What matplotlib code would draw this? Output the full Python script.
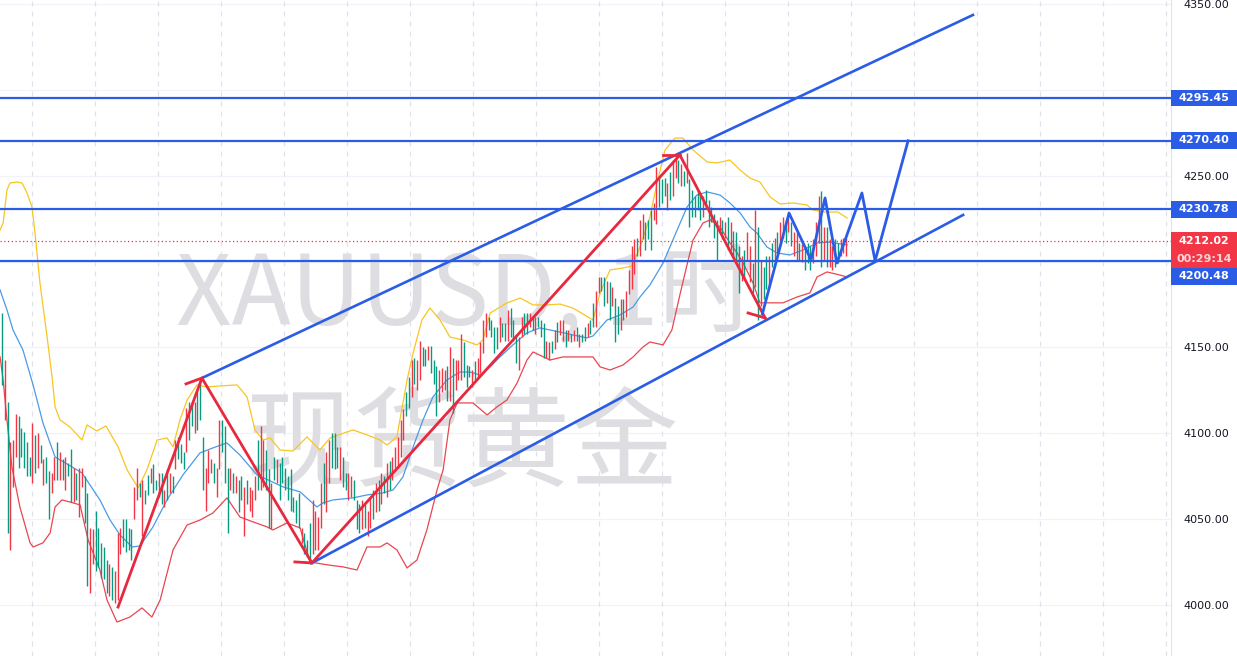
import matplotlib.pyplot as plt
import matplotlib.transforms as mtransforms
from matplotlib.patches import Rectangle
import numpy as np

# XAUUSD 1H candles (bar index = position)
highs = [
    4170, 4143, 4118, 4095, 4096, 4111, 4110, 4103, 4101, 4095,
    4086, 4106, 4099, 4100, 4093, 4085, 4086, 4078, 4077, 4086,
    4095, 4089, 4085, 4086, 4083, 4091, 4080, 4077, 4080, 4080,
    4075, 4065, 4045, 4044, 4055, 4045, 4036, 4034, 4026, 4024,
    4022, 4020, 4042, 4045, 4050, 4050, 4045, 4044, 4069, 4080,
    4071, 4073, 4067, 4076, 4080, 4082, 4073, 4077, 4077, 4067,
    4079, 4077, 4075, 4096, 4098, 4094, 4089, 4115, 4118, 4118,
    4118, 4124, 4131, 4098, 4080, 4090, 4085, 4083, 4080, 4108,
    4108, 4104, 4080, 4080, 4077, 4075, 4073, 4075, 4069, 4073,
    4069, 4067, 4075, 4096, 4104, 4096, 4090, 4079, 4071, 4086,
    4085, 4083, 4086, 4080, 4075, 4079, 4063, 4061, 4065, 4045,
    4042, 4038, 4048, 4061, 4055, 4051, 4071, 4083, 4089, 4096,
    4100, 4100, 4092, 4092, 4086, 4077, 4077, 4075, 4073, 4061,
    4059, 4061, 4059, 4055, 4063, 4067, 4071, 4073, 4077, 4075,
    4083, 4084, 4086, 4092, 4098, 4108, 4114, 4124, 4133, 4143,
    4144, 4143, 4154, 4150, 4149, 4151, 4151, 4143, 4139, 4137,
    4138, 4137, 4139, 4150, 4144, 4143, 4143, 4158, 4153, 4140,
    4139, 4137, 4142, 4144, 4153, 4166, 4170, 4168, 4166, 4162,
    4162, 4168, 4164, 4164, 4172, 4173, 4166, 4158, 4156, 4168,
    4170, 4170, 4170, 4168, 4168, 4168, 4166, 4164, 4154, 4153,
    4154, 4160, 4165, 4166, 4166, 4160, 4160, 4158, 4160, 4162,
    4158, 4158, 4162, 4164, 4166, 4176, 4183, 4191, 4191, 4191,
    4189, 4188, 4185, 4179, 4174, 4178, 4178, 4183, 4195, 4209,
    4213, 4214, 4224, 4228, 4223, 4224, 4230, 4234, 4255, 4249,
    4248, 4249, 4246, 4252, 4259, 4261, 4259, 4257, 4253, 4263,
    4248, 4242, 4238, 4242, 4240, 4238, 4242, 4236, 4232, 4228,
    4224, 4226, 4224, 4223, 4226, 4223, 4218, 4217, 4209, 4203,
    4207, 4217, 4209, 4199, 4230, 4220, 4201, 4197, 4203, 4203,
    4211, 4214, 4217, 4223, 4226, 4223, 4226, 4223, 4217, 4217,
    4211, 4210, 4209, 4211, 4209, 4213, 4223, 4238, 4241, 4220,
    4220, 4213, 4209, 4213, 4211, 4213, 4214, 4214,
]
lows = [
    4128, 4108, 4042, 4032, 4069, 4086, 4080, 4086, 4080, 4075,
    4075, 4071, 4077, 4080, 4083, 4070, 4071, 4050, 4065, 4073,
    4073, 4073, 4073, 4067, 4075, 4060, 4060, 4061, 4051, 4069,
    4048, 4011, 4007, 4024, 4020, 4022, 4016, 4015, 4007, 4005,
    4003, 4001, 4003, 4030, 4034, 4031, 4032, 4026, 4050, 4061,
    4063, 4040, 4059, 4064, 4071, 4065, 4067, 4063, 4059, 4057,
    4061, 4065, 4065, 4079, 4085, 4083, 4079, 4089, 4096, 4104,
    4100, 4102, 4108, 4067, 4055, 4071, 4077, 4071, 4063, 4079,
    4089, 4071, 4042, 4067, 4065, 4065, 4054, 4061, 4040, 4059,
    4055, 4051, 4061, 4067, 4067, 4069, 4067, 4045, 4044, 4073,
    4071, 4061, 4071, 4067, 4061, 4055, 4054, 4048, 4045, 4036,
    4030, 4028, 4024, 4030, 4032, 4032, 4045, 4059, 4054, 4071,
    4080, 4079, 4080, 4073, 4069, 4067, 4061, 4063, 4061, 4044,
    4042, 4044, 4045, 4040, 4045, 4050, 4054, 4055, 4059, 4065,
    4063, 4067, 4073, 4080, 4080, 4086, 4096, 4110, 4115, 4121,
    4129, 4125, 4131, 4139, 4139, 4143, 4135, 4129, 4110, 4118,
    4124, 4125, 4119, 4119, 4112, 4125, 4131, 4131, 4133, 4127,
    4133, 4127, 4131, 4133, 4135, 4147, 4156, 4160, 4156, 4147,
    4149, 4153, 4156, 4154, 4154, 4156, 4154, 4141, 4137, 4156,
    4158, 4158, 4162, 4160, 4158, 4162, 4156, 4144, 4144, 4143,
    4147, 4149, 4153, 4157, 4154, 4150, 4154, 4153, 4154, 4154,
    4150, 4153, 4154, 4156, 4158, 4162, 4162, 4182, 4183, 4174,
    4176, 4166, 4174, 4153, 4158, 4160, 4166, 4168, 4181, 4184,
    4193, 4203, 4203, 4213, 4207, 4213, 4207, 4224, 4222, 4232,
    4234, 4238, 4230, 4236, 4238, 4249, 4246, 4244, 4244, 4246,
    4220, 4226, 4226, 4230, 4224, 4226, 4232, 4220, 4223, 4214,
    4201, 4218, 4213, 4214, 4207, 4207, 4203, 4201, 4182, 4189,
    4191, 4201, 4188, 4182, 4185, 4166, 4174, 4178, 4184, 4185,
    4197, 4201, 4205, 4211, 4214, 4211, 4217, 4209, 4203, 4201,
    4201, 4200, 4195, 4199, 4195, 4199, 4203, 4211, 4197, 4201,
    4197, 4197, 4195, 4197, 4199, 4203, 4205, 4203,
]
# g = up candle, r = down candle
dirs = ("grgrrrgggg" "grgrgrggrr" "grgrggrgrr" "ggrrgggggr" "grrrggggrr"
        "grggrggrgr" "grgrgggrgg" "rgggrrrgrr" "gggrgrggrg" "rrrgrrggrg"
        "rggggggggr" "gggrrrrgrr" "gggrggrrgg" "grgrrgrgrg" "rgrrrrrggr"
        "grrggrgggr" "rrgrgrrrgg" "grgrrrrggg" "grggrgggrr" "ggrgrgggrr"
        "grgrrgrgrg" "rggrggrrgg" "rgrggrgrrr" "rgrrgggrrg" "ggrgrrgrgr"
        "gggggrgggg" "grgrgrgggr" "grrgrgrggr" "grgrrgrgrr" "grgggrrrgr"
        "grrggrrr")

# Bollinger bands (bar index, price)
bb_up_x = [-0.7, 0.4, 1.8, 2.9, 5.5, 7.3, 9.1, 10.9, 12.0, 13.8, 16.4, 18.2, 19.3, 21.1,
           24.7, 29.1, 30.9, 34.5, 37.8, 42.2, 45.5, 49.5, 52.7, 56.4, 60.0, 62.2, 64.7,
           67.3, 70.9, 74.5, 79.3, 85.5, 89.1, 92.0, 94.9, 97.5, 101.1, 105.8, 110.9,
           115.6, 119.3, 127.6, 132.7, 137.5, 140.0, 143.6, 147.3, 149.5, 152.7, 155.6,
           159.3, 162.9, 167.6, 172.7, 174.9, 177.5, 183.6, 188.4, 193.1, 198.2, 202.9,
           207.6, 214.9, 217.5, 221.1, 225.8, 229.1, 232.0, 235.6, 238.2, 241.1, 244.7,
           247.6, 251.3, 256.4, 260.0, 264.7, 268.4, 272.0, 275.6, 279.3, 282.9, 287.6,
           292.7, 294.9, 299.3, 304.0, 307.3]
bb_up = [4218.4, 4222.5, 4241.7, 4245.8, 4246.4, 4245.8, 4240.0, 4231.8, 4216.7, 4187.6,
         4156.1, 4132.8, 4115.4, 4107.8, 4103.7, 4096.1, 4104.9, 4101.4, 4104.3, 4092.1,
         4078.7, 4068.2, 4078.7, 4096.1, 4097.3, 4092.1, 4107.8, 4119.4, 4128.2, 4127.0,
         4127.6, 4128.2, 4121.2, 4102.0, 4096.1, 4097.3, 4090.3, 4089.7, 4097.9, 4090.3,
         4097.3, 4102.0, 4099.1, 4096.1, 4093.2, 4097.9, 4131.1, 4146.8, 4166.0, 4173.0,
         4166.0, 4156.1, 4154.4, 4151.5, 4154.4, 4170.1, 4175.9, 4178.8, 4174.8, 4174.8,
         4175.3, 4173.0, 4166.0, 4181.8, 4195.2, 4196.3, 4197.5, 4208.5, 4226.0, 4245.8,
         4265.0, 4272.0, 4272.0, 4265.0, 4258.1, 4257.5, 4259.2, 4253.4, 4248.7, 4246.4,
         4237.7, 4233.6, 4234.2, 4233.0, 4230.1, 4228.9, 4228.9, 4225.4]

bb_mid_x = [-0.7, 1.8, 4.0, 7.6, 11.3, 14.9, 19.3, 23.6, 29.1, 32.0, 35.6, 39.3, 42.9, 47.3,
            50.2, 54.9, 60.0, 65.8, 72.0, 76.7, 81.8, 86.5, 92.7, 97.5, 102.2, 108.4, 114.5,
            116.7, 120.4, 127.6, 132.7, 138.5, 142.2, 145.8, 149.5, 153.1, 156.7, 161.8,
            166.5, 170.2, 173.8, 177.5, 181.1, 185.8, 190.9, 195.6, 199.3, 202.9, 207.6,
            212.7, 214.9, 220.0, 224.7, 229.5, 232.0, 235.6, 240.4, 245.5, 249.1, 252.7,
            256.4, 261.1, 264.7, 268.4, 272.0, 274.5, 278.2, 281.8, 286.5, 291.3, 296.4,
            301.1, 307.3]
bb_mid = [4183.5, 4171.9, 4160.2, 4148.6, 4128.2, 4106.0, 4086.2, 4082.2, 4076.9, 4069.9,
          4061.2, 4049.5, 4040.8, 4033.8, 4034.4, 4045.5, 4061.2, 4075.8, 4088.6, 4091.5,
          4094.4, 4087.4, 4075.8, 4072.3, 4068.8, 4065.9, 4057.1, 4059.5, 4061.2, 4062.4,
          4064.1, 4065.3, 4067.0, 4074.6, 4092.1, 4107.8, 4121.2, 4131.1, 4135.7, 4135.7,
          4134.0, 4138.7, 4144.5, 4151.5, 4158.5, 4161.4, 4160.2, 4159.0, 4157.3, 4155.6,
          4156.7, 4166.0, 4168.9, 4173.6, 4179.4, 4186.4, 4199.2, 4218.4, 4231.8, 4238.8,
          4240.6, 4238.8, 4234.2, 4228.4, 4220.2, 4216.7, 4208.5, 4205.1, 4203.9, 4206.8,
          4210.9, 4211.4, 4209.7]

bb_low_x = [-0.7, 0.4, 1.8, 3.6, 6.5, 10.2, 11.3, 14.9, 17.5, 19.3, 21.8, 24.7, 28.4, 31.3,
            35.6, 38.2, 41.8, 46.5, 50.9, 54.5, 57.5, 62.2, 67.3, 72.0, 76.7, 81.8, 86.5,
            91.3, 96.4, 98.5, 103.6, 108.4, 112.0, 118.2, 124.0, 129.1, 132.7, 137.5, 140.0,
            143.6, 147.3, 150.9, 154.5, 158.2, 160.4, 162.9, 165.5, 171.3, 176.4, 180.0,
            183.6, 187.3, 190.9, 193.1, 199.3, 204.0, 214.9, 217.5, 221.1, 225.8, 229.5,
            233.1, 235.6, 240.4, 243.6, 246.5, 249.1, 251.3, 254.9, 257.5, 261.1, 264.7,
            267.3, 269.5, 273.1, 275.6, 279.3, 284.0, 289.1, 293.8, 296.4, 300.0, 304.7,
            307.3]
bb_low = [4144.5, 4131.1, 4107.8, 4080.4, 4057.1, 4036.2, 4033.8, 4036.2, 4042.0, 4057.1,
          4061.2, 4060.0, 4058.3, 4037.9, 4020.4, 4002.9, 3990.1, 3993.0, 3998.3, 3993.0,
          4002.9, 4032.1, 4046.6, 4049.5, 4053.6, 4062.4, 4051.3, 4048.4, 4045.5, 4043.7,
          4047.8, 4044.9, 4025.1, 4023.4, 4022.2, 4020.4, 4033.8, 4033.8, 4036.2, 4032.1,
          4021.6, 4026.2, 4043.7, 4067.0, 4078.7, 4107.8, 4117.7, 4117.7, 4110.7, 4115.4,
          4119.4, 4129.3, 4142.7, 4147.4, 4142.7, 4144.5, 4144.5, 4138.7, 4136.9, 4139.8,
          4144.5, 4150.3, 4153.2, 4151.5, 4160.2, 4180.6, 4198.1, 4212.6, 4222.5, 4224.3,
          4220.2, 4210.9, 4205.1, 4199.2, 4187.6, 4176.0, 4176.0, 4176.0, 4179.4, 4181.8,
          4191.1, 4194.0, 4192.2, 4191.1]

# drawings (bar index, price)
chan_up_x, chan_up_y = [72.7, 353.1], [4132.2, 4343.7]
chan_lo_x, chan_lo_y = [112.7, 349.5], [4024.5, 4227.2]
zig_red_x = [42.2, 72.7, 112.7, 246.5, 277.5]
zig_red_y = [3998.8, 4132.2, 4024.5, 4262.1, 4167.2]
tick_red = [((66.9, 4128.8), (72.7, 4132.2)), ((106.5, 4025.1), (112.7, 4024.5)),
            ((240.4, 4262.1), (246.5, 4262.1)), ((271.3, 4170.1), (277.5, 4167.2))]
zig_blue_x = [276.5, 286.2, 294.2, 299.3, 303.6, 312.7, 317.5, 329.5]
zig_blue_y = [4169.5, 4228.3, 4201.0, 4237.1, 4199.2, 4240.0, 4200.5, 4270.4]
levels = [4295.45, 4270.40, 4230.78, 4200.48]
last_price = 4212.02
countdown = "00:29:14"
price_ticks = [4000, 4050, 4100, 4150, 4200, 4250, 4300, 4350]
hidden_ticks = [4200, 4300]  # covered by the level labels on the price scale

UP, DOWN = '#089981', '#F23645'
BLUE, RED = '#2B5CE6', '#E8283E'

fig = plt.figure(figsize=(12.37, 6.56), dpi=100)
ax = fig.add_axes([0, 0, 1171 / 1237, 1])
ax.set_xlim(-0.73, 425.1)
ax.set_ylim(3970.3, 4352.4)

# grid
for p in price_ticks:
    ax.axhline(p, color='#F0F3FA', lw=0.9, zorder=0)
for gx in np.arange(10.9, 425, 22.9):
    ax.axvline(gx, color='#E0E3EB', lw=0.9, ls=(0, (4, 4)), zorder=0)

# watermark
wm = dict(family=['Noto Sans CJK SC', 'DejaVu Sans'], color='#DEDEE2',
          ha='center', va='center', transform=ax.transAxes, zorder=1)
ax.text(0.398, 0.548, 'XAUUSD, 1时', fontsize=70, **wm)
ax.text(0.395, 0.318, '现货黄金', fontsize=78, **wm)

# candles
idx = np.arange(len(highs))
ax.vlines(idx, lows, highs, colors=[UP if d == 'g' else DOWN for d in dirs],
          lw=1.0, zorder=3)

# bollinger
ax.plot(bb_up_x, bb_up, color='#F7C624', lw=0.9, zorder=2)
ax.plot(bb_mid_x, bb_mid, color='#4A9AE6', lw=0.9, zorder=2)
ax.plot(bb_low_x, bb_low, color='#E84650', lw=0.9, zorder=2)

# levels + current price
for lv in levels:
    ax.axhline(lv, color=BLUE, lw=1.6, zorder=4)
ax.axhline(last_price, color=DOWN, lw=0.9, ls=(0, (1, 2)), zorder=2)

# channel & zigzags
ax.plot(chan_up_x, chan_up_y, color=BLUE, lw=1.9, zorder=5)
ax.plot(chan_lo_x, chan_lo_y, color=BLUE, lw=1.9, zorder=5)
ax.plot(zig_red_x, zig_red_y, color=RED, lw=2.0, zorder=6)
for (x0, y0), (x1, y1) in tick_red:
    ax.plot([x0, x1], [y0, y1], color=RED, lw=2.0, zorder=6)
ax.plot(zig_blue_x, zig_blue_y, color=BLUE, lw=2.0, zorder=6)

# axes styling
for s in ['top', 'left', 'bottom']:
    ax.spines[s].set_visible(False)
ax.spines['right'].set_color('#E0E3EB')
ax.set_xticks([])
ax.yaxis.tick_right()
ax.set_yticks(price_ticks)
ax.set_yticklabels(['' if p in hidden_ticks else f'{p:.2f}' for p in price_ticks])
ax.tick_params(axis='y', length=0, pad=9, labelsize=8, labelcolor='#131722')

# price scale labels
trans = mtransforms.blended_transform_factory(ax.transAxes, ax.transData)
xr = 1237 / 1171


def price_box(center, height, color, lines, text_colors):
    ax.add_patch(Rectangle((1.0, center - height / 2), xr - 1.0, height, transform=trans,
                           facecolor=color, edgecolor='none', clip_on=False, zorder=8))
    n = len(lines)
    for k, (t, c) in enumerate(zip(lines, text_colors)):
        yy = center + height / 2 - (k + 0.5) * height / n
        ax.text((1 + xr) / 2, yy, t, transform=trans, ha='center', va='center',
                fontsize=8, fontweight='semibold', color=c, clip_on=False, zorder=9)


price_box(4295.3, 9.6, BLUE, ['4295.45'], ['white'])
price_box(4270.6, 9.6, BLUE, ['4270.40'], ['white'])
price_box(4230.4, 9.6, BLUE, ['4230.78'], ['white'])
price_box(4206.8, 20.5, DOWN, [f'{last_price:.2f}', countdown], ['white', '#FDD5D8'])
price_box(4191.4, 9.6, BLUE, ['4200.48'], ['white'])

fig.savefig('out.png', dpi=100)
